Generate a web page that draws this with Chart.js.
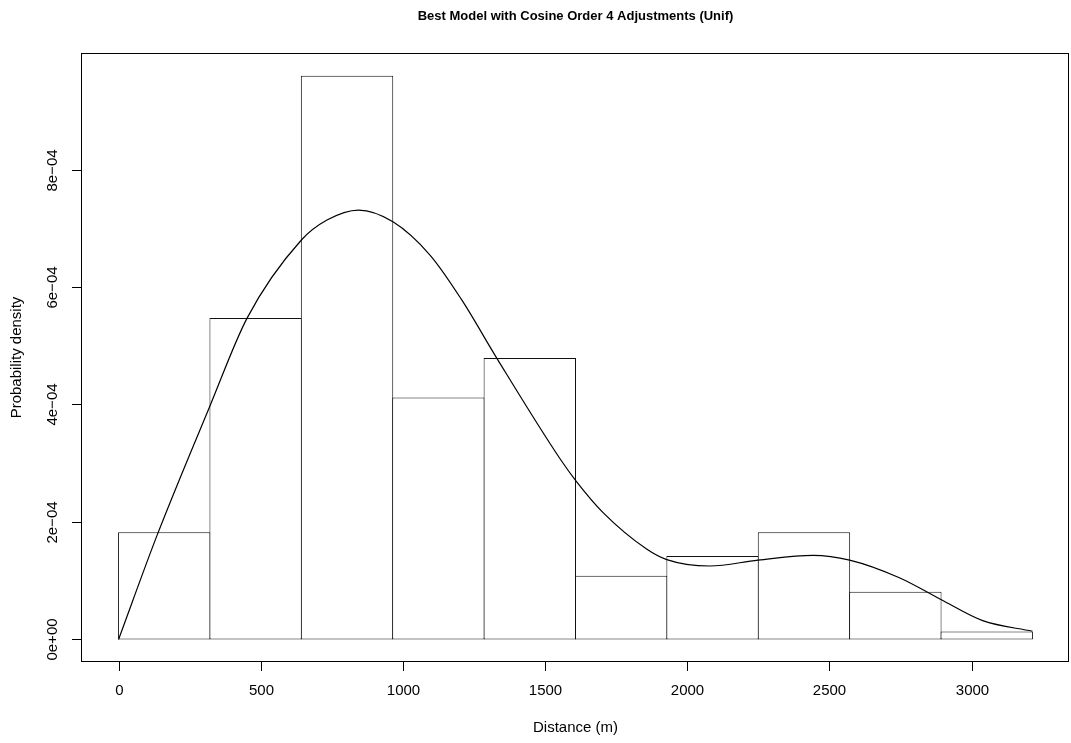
<!DOCTYPE html>
<html>
<head>
<meta charset="utf-8">
<script src="https://cdn.jsdelivr.net/npm/chart.js@4.4.1/dist/chart.umd.min.js"></script>
<style>
  html, body { margin: 0; padding: 0; background: #fff; }
  #wrap { width: 1071px; height: 743px; }
</style>
</head>
<body>
<div id="wrap"><canvas id="chart" width="1071" height="743"></canvas></div>
<script>
// histogram bins (distance, m) and density per bin
const binEdges = [0, 321.4, 642.8, 964.2, 1285.6, 1607, 1928.4, 2249.8, 2571.2, 2892.6, 3214];
const binDensity = [1.823e-4, 5.474e-4, 9.597e-4, 4.118e-4, 4.792e-4, 1.085e-4, 1.419e-4, 1.823e-4, 0.813e-4, 0.136e-4];

// fitted detection function
const curveDist = [0, 136, 321, 452, 643, 733, 844, 965, 1096, 1207, 1330, 1552, 1607, 1704, 1857, 1928, 2079, 2249, 2442, 2571, 2746, 2892, 3039, 3214];
const curveDensity = [0, 1.78e-4, 3.97e-4, 5.47e-4, 6.80e-4, 7.14e-4, 7.31e-4, 7.11e-4, 6.54e-4, 5.78e-4, 4.79e-4, 3.08e-4, 2.71e-4, 2.16e-4, 1.54e-4, 1.36e-4, 1.25e-4, 1.35e-4, 1.43e-4, 1.35e-4, 1.05e-4, 0.68e-4, 0.32e-4, 0.14e-4];

const xTicks = [0, 500, 1000, 1500, 2000, 2500, 3000];
const yTicks = [0, 2e-4, 4e-4, 6e-4, 8e-4];
const yTickLabels = ['0e+00', '2e\u221204', '4e\u221204', '6e\u221204', '8e\u221204'];

const FONT = '"Liberation Sans", Arial, Helvetica, sans-serif';

const barPoints = binDensity.map((d, i) => ({ x: (binEdges[i] + binEdges[i + 1]) / 2, y: d }));
const curvePoints = curveDist.map((d, i) => ({ x: d, y: curveDensity[i] }));

// R-style box, ticks and labels
const rAxes = {
  id: 'rAxes',
  afterDraw(chart) {
    const { ctx, chartArea: a, scales: { x, y } } = chart;
    ctx.save();
    ctx.strokeStyle = '#000';
    ctx.fillStyle = '#000';
    ctx.lineWidth = 1;
    ctx.strokeRect(81.5, 53.5, 987, 608);

    ctx.font = '15px ' + FONT;
    ctx.textAlign = 'center';
    ctx.textBaseline = 'middle';
    xTicks.forEach(v => {
      const px = Math.round(x.getPixelForValue(v)) + 0.5;
      ctx.beginPath();
      ctx.moveTo(px, 662);
      ctx.lineTo(px, 671);
      ctx.stroke();
      ctx.fillText(String(v), px, 691);
    });

    yTicks.forEach((v, i) => {
      const py = Math.round(y.getPixelForValue(v)) + 0.5;
      ctx.beginPath();
      ctx.moveTo(82, py);
      ctx.lineTo(72, py);
      ctx.stroke();
      ctx.save();
      ctx.translate(53, py);
      ctx.rotate(-Math.PI / 2);
      ctx.fillText(yTickLabels[i], 0, 0);
      ctx.restore();
    });

    ctx.fillText('Distance (m)', (a.left + a.right) / 2, 728);

    ctx.save();
    ctx.translate(17, (a.top + a.bottom) / 2);
    ctx.rotate(-Math.PI / 2);
    ctx.fillText('Probability density', 0, 0);
    ctx.restore();

    ctx.font = 'bold 13px ' + FONT;
    ctx.fillText('Best Model with Cosine Order 4 Adjustments (Unif)', (a.left + a.right) / 2, 16);
    ctx.restore();
  }
};

new Chart(document.getElementById('chart'), {
  type: 'bar',
  data: {
    datasets: [
      {
        type: 'line',
        data: curvePoints,
        borderColor: '#000',
        borderWidth: 1.2,
        pointRadius: 0,
        cubicInterpolationMode: 'monotone',
        fill: false,
        order: 0,
      },
      {
        type: 'bar',
        data: barPoints,
        backgroundColor: '#fff',
        borderColor: '#111',
        borderWidth: 1,
        borderSkipped: false,
        inflateAmount: 0,
        barPercentage: 1.011,   // neighbours share one 1px edge
        categoryPercentage: 1,
        order: 1,
      },
    ],
  },
  options: {
    responsive: false,
    animation: false,
    layout: { padding: { left: 82, top: 53, right: 2, bottom: 81 } },
    plugins: {
      legend: { display: false },
      tooltip: { enabled: false },
    },
    scales: {
      x: { type: 'linear', display: false, min: -128.6, max: 3342.6, offset: false },
      y: { type: 'linear', display: false, min: -0.384e-4, max: 9.984e-4 },
    },
  },
  plugins: [rAxes],
});
</script>
</body>
</html>
